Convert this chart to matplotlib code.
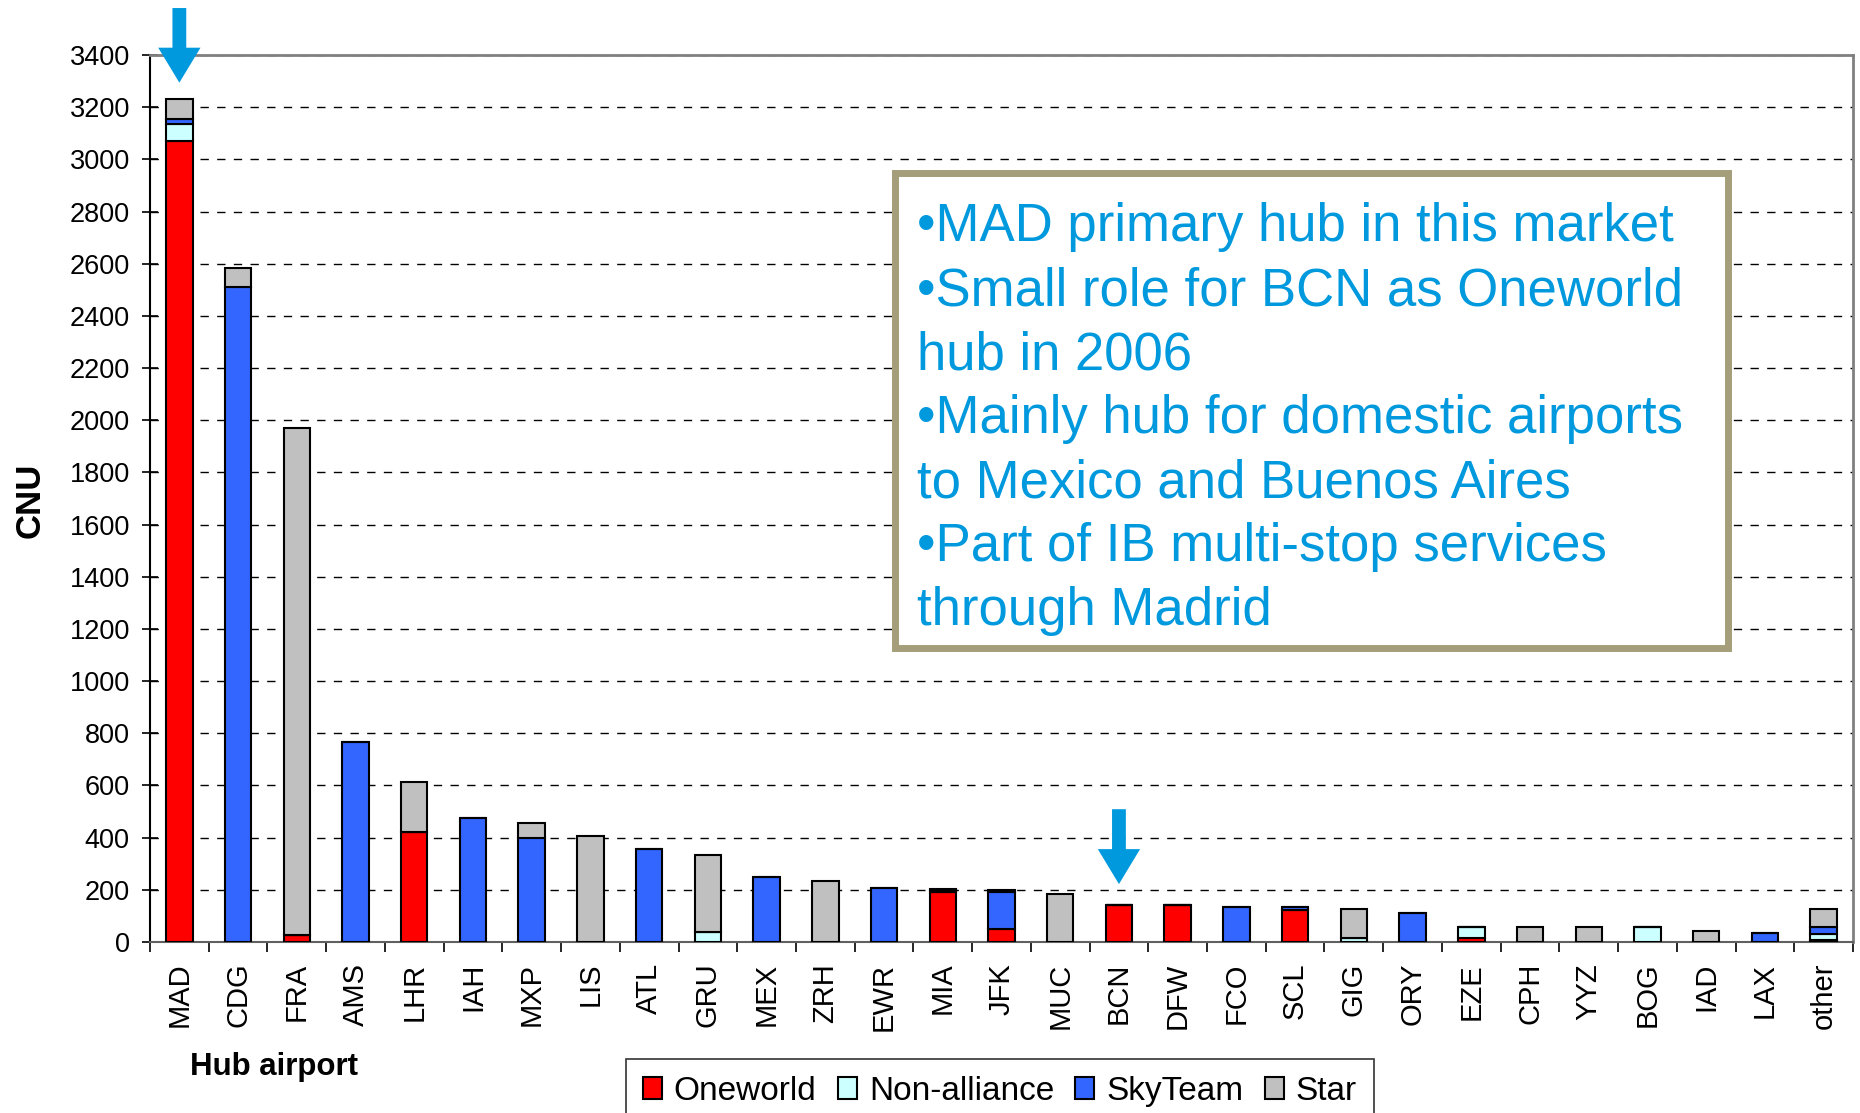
import matplotlib.pyplot as plt
import numpy as np
from matplotlib.patches import Rectangle

plt.rcParams['font.family'] = ['Liberation Sans', 'DejaVu Sans']

hubs = ['MAD', 'CDG', 'FRA', 'AMS', 'LHR', 'IAH', 'MXP', 'LIS', 'ATL', 'GRU',
        'MEX', 'ZRH', 'EWR', 'MIA', 'JFK', 'MUC', 'BCN', 'DFW', 'FCO', 'SCL',
        'GIG', 'ORY', 'EZE', 'CPH', 'YYZ', 'BOG', 'IAD', 'LAX', 'other']
oneworld = [3070, 0, 25, 0, 420, 0, 0, 0, 0, 0,
            0, 0, 0, 190, 50, 0, 142, 142, 0, 122,
            0, 0, 15, 0, 0, 0, 0, 0, 8]
nonalliance = [65, 0, 0, 0, 0, 0, 0, 0, 0, 40,
               0, 0, 0, 0, 0, 0, 0, 0, 0, 0,
               15, 0, 44, 0, 0, 59, 0, 0, 22]
skyteam = [20, 2510, 0, 765, 0, 475, 400, 0, 355, 0,
           250, 0, 208, 8, 140, 0, 0, 0, 133, 13,
           0, 110, 0, 0, 0, 0, 0, 33, 28]
star = [75, 75, 1945, 0, 195, 0, 55, 405, 0, 293,
        0, 233, 0, 4, 10, 184, 0, 0, 0, 0,
        110, 0, 0, 59, 59, 0, 42, 0, 67]

series = [('Oneworld', oneworld, '#FF0000'),
          ('Non-alliance', nonalliance, '#CCFFFF'),
          ('SkyTeam', skyteam, '#3366FF'),
          ('Star', star, '#C0C0C0')]

fig = plt.figure(figsize=(18.6, 11.13), dpi=100)
ax = fig.add_axes([150/1860, 1-942/1113, 1703/1860, 887/1113])

x = np.arange(len(hubs))
bottom = np.zeros(len(hubs))
for name, vals, col in series:
    vals = np.array(vals, dtype=float)
    ax.bar(x, vals, 0.45, bottom=bottom, color=col, edgecolor='black',
           linewidth=1.5, label=name, zorder=3)
    bottom += vals

ax.set_xlim(-0.5, len(hubs) - 0.5)
ax.set_ylim(0, 3400)
ax.set_yticks(np.arange(0, 3401, 200))
ax.tick_params(axis='y', labelsize=19.5, length=11, width=1.2,
               direction='inout', pad=9)
ax.set_xticks(x)
ax.set_xticklabels(hubs, rotation=90, fontsize=21)
ax.set_xticks(np.arange(-0.5, len(hubs), 1), minor=True)
ax.tick_params(axis='x', which='major', length=0, pad=15)
ax.tick_params(axis='x', which='minor', length=7, width=1.2)
ax.yaxis.grid(True, color='black', linestyle=(0, (6, 6)), linewidth=1.0, zorder=0)
ax.set_axisbelow(True)
for s in ['top', 'right']:
    ax.spines[s].set_color('#808080')
    ax.spines[s].set_linewidth(2)
ax.spines['left'].set_linewidth(1.5)
ax.spines['bottom'].set_linewidth(1.5)
ax.spines['bottom'].set_color('#606060')

fig.text(30/1860, 1-500/1113, 'CNU', fontsize=25, fontweight='bold',
         rotation=90, ha='center', va='center')
fig.text(190/1860, 1-1067/1113, 'Hub airport', fontsize=22.5, fontweight='bold',
         va='center', ha='left')

# arrows pointing at MAD and BCN
arrow_kw = dict(width=0.235, head_width=0.72, head_length=134,
                length_includes_head=True, color='#0099DD', clip_on=False,
                zorder=5, linewidth=0)
ax.arrow(0, 3580, 0, -286, **arrow_kw)
ax.arrow(16, 509, 0, -287, **arrow_kw)

# text box
fig.patches.append(Rectangle((895/1860, 1-648/1113), 833/1860, 475/1113,
                             transform=fig.transFigure, fill=True,
                             facecolor='white', edgecolor='#A59E7A',
                             linewidth=5, zorder=6))
lines = ['•MAD primary hub in this market',
         '•Small role for BCN as Oneworld',
         'hub in 2006',
         '•Mainly hub for domestic airports',
         'to Mexico and Buenos Aires',
         '•Part of IB multi-stop services',
         'through Madrid']
for i, line in enumerate(lines):
    fig.text(917/1860, 1-(241 + 64*i)/1113, line, fontsize=38,
             color='#0099DD', va='baseline', ha='left', zorder=7)

leg = fig.legend(loc='upper left', bbox_to_anchor=(626/1860, 1-1059/1113),
                 ncol=4, fontsize=24, frameon=True, fancybox=False,
                 edgecolor='black', handlelength=0.57, handleheight=0.6,
                 handletextpad=0.36, columnspacing=0.64, borderpad=0.5,
                 borderaxespad=0)
leg.get_frame().set_linewidth(1.2)

fig.savefig('out.png', dpi=100)
